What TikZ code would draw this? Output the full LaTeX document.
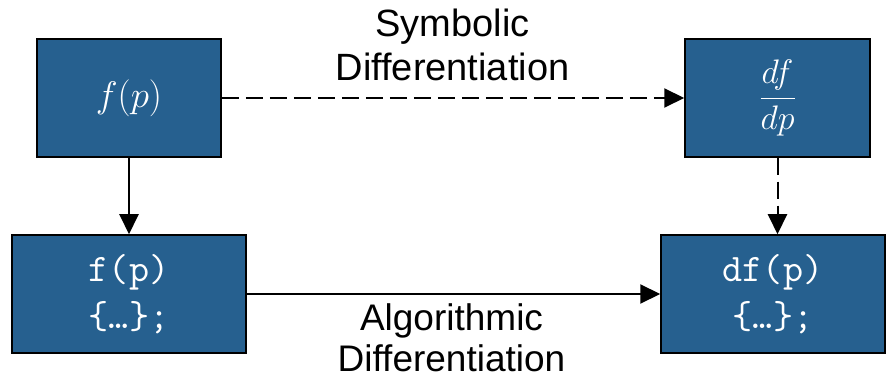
\RequirePackage{fix-cm}
\documentclass[tikz,border=0pt]{standalone}
\usepackage{fontspec}
\setmainfont{Liberation Sans}
\usetikzlibrary{arrows.meta}
\definecolor{boxblue}{RGB}{38,96,143}
\tikzset{
  blk/.style={draw=black, line width=1.5pt, fill=boxblue, text=white,
    minimum height=118pt, inner sep=0pt},
  conn/.style={line width=2pt, -{Triangle[length=20pt,width=19pt]}},
  dashconn/.style={conn, dash pattern=on 17pt off 7pt},
  lbl/.style={align=center, inner sep=0pt},
  code/.style={align=center, font=\ttfamily\fontsize{39}{47}\selectfont}
}
\begin{document}
\begin{tikzpicture}[x=1pt, y=-1pt]
  \useasboundingbox (0,0) rectangle (886,379);
  % the four boxes
  \node[blk, minimum width=184pt] (fp) at (129,98)
    {\fontsize{37}{44}\selectfont $f(p)$};
  \node[blk, minimum width=185pt] (dfdp) at (777.5,98)
    {\fontsize{34}{40}\selectfont $\displaystyle\frac{df}{dp}$};
  \node[blk, minimum width=234pt, code] (fcode) at (129,294)
    {f(p)\\\{…\};};
  \node[blk, minimum width=224pt, code] (dfcode) at (773,294)
    {df(p)\\\{…\};};
  % connectors
  \draw[dashconn] (fp.east) -- (dfdp.west);
  \draw[conn] (fp.south) -- (fcode.north);
  \draw[dashconn] (dfdp.south) -- (dfcode.north -| dfdp.south);
  \draw[conn] (fcode.east) -- (dfcode.west);
  % labels (base anchor sits on the last line)
  \node[lbl, anchor=base, font=\fontsize{38}{44}\selectfont] (sym)
    at (452.5,81) {Symbolic\\Differentiation};
  \node[lbl, anchor=base, font=\fontsize{37}{41}\selectfont] (alg)
    at (451.5,371) {Algorithmic\\Differentiation};
\end{tikzpicture}
\end{document}
